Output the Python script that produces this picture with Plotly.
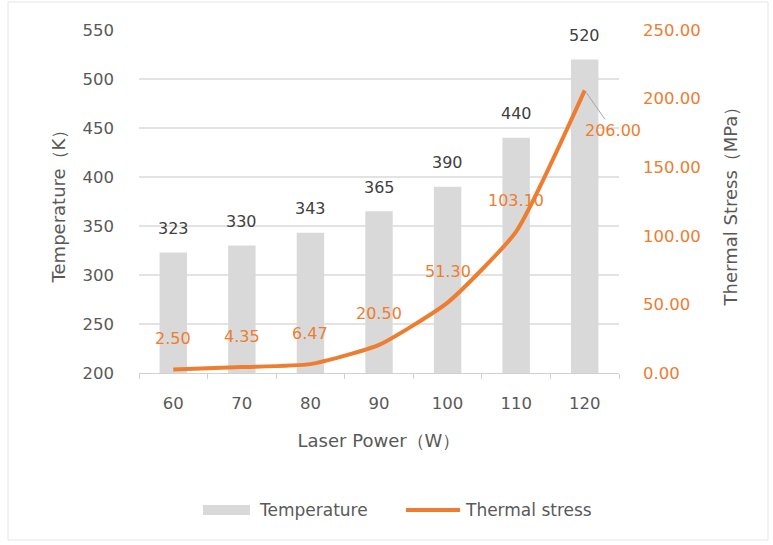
import plotly.graph_objects as go

# Laser power categories (W)
laser_power = ["60", "70", "80", "90", "100", "110", "120"]
# Peak temperature (K)
temperature = [323, 330, 343, 365, 390, 440, 520]
# Thermal stress (MPa)
thermal_stress = [2.50, 4.35, 6.47, 20.50, 51.30, 103.10, 206.00]

FONT = "DejaVu Sans"
GRAY_TEXT = "#595959"
DARK_TEXT = "#404040"
ORANGE = "#ED7D31"
BAR_GRAY = "#D9D9D9"
GRID = "#E3E3E3"

W, H = 773, 545
ML, MR, MT, MB = 139, 154, 30, 172
PW, PH = W - ML - MR, H - MT - MB


def px(xp):
    """pixel column -> paper x"""
    return (xp - ML) / PW


def py(yp):
    """pixel row -> paper y"""
    return (H - MB - yp) / PH


fig = go.Figure()

fig.add_trace(go.Bar(
    x=laser_power, y=temperature, name="Temperature",
    marker=dict(color=BAR_GRAY, line=dict(width=0)),
    yaxis="y",
))

fig.add_trace(go.Scatter(
    x=laser_power, y=thermal_stress, name="Thermal stress",
    mode="lines", line=dict(color=ORANGE, width=4, shape="spline", smoothing=0.5),
    yaxis="y2",
))

annotations = []
# value labels above the bars (category index used as x position)
for i, tv in enumerate(temperature):
    annotations.append(dict(
        x=i, y=tv, xref="x", yref="y", text=str(tv), showarrow=False,
        yshift=24, font=dict(family=FONT, size=16, color=DARK_TEXT),
    ))
# value labels above the stress line
for i, sv in enumerate(thermal_stress[:-1]):
    annotations.append(dict(
        x=i, y=sv, xref="x", yref="y2", text=f"{sv:.2f}", showarrow=False,
        yshift=31, font=dict(family=FONT, size=16, color=ORANGE),
    ))
# last stress label sits below-right with a leader line
last = len(thermal_stress) - 1
annotations.append(dict(
    x=last, y=thermal_stress[last], xref="x", yref="y2",
    text=f"{thermal_stress[last]:.2f}", showarrow=True, arrowhead=0,
    arrowwidth=1, arrowcolor="#A6A6A6", ax=28, ay=40, standoff=3,
    font=dict(family=FONT, size=16, color=ORANGE),
))

# legend drawn below the axis title
legend_font = dict(family=FONT, size=17, color=GRAY_TEXT)
annotations.append(dict(
    x=px(257), y=py(510), xref="paper", yref="paper", xanchor="left",
    yanchor="middle", text=fig.data[0].name, showarrow=False, font=legend_font,
))
annotations.append(dict(
    x=px(463), y=py(510), xref="paper", yref="paper", xanchor="left",
    yanchor="middle", text=fig.data[1].name, showarrow=False, font=legend_font,
))

shapes = [
    dict(type="rect", xref="paper", yref="paper",
         x0=px(203), x1=px(250), y0=py(515), y1=py(505),
         fillcolor=BAR_GRAY, line=dict(width=0)),
    dict(type="line", xref="paper", yref="paper",
         x0=px(406), x1=px(460), y0=py(510), y1=py(510),
         line=dict(color=ORANGE, width=4)),
    # chart frame
    dict(type="rect", xref="paper", yref="paper",
         x0=px(8), x1=px(768), y0=py(540), y1=py(2),
         line=dict(color="#E6E6E6", width=1), layer="below"),
]

fig.update_layout(
    width=W, height=H,
    margin=dict(l=ML, r=MR, t=MT, b=MB),
    paper_bgcolor="white", plot_bgcolor="white",
    font=dict(family=FONT, size=16, color=GRAY_TEXT),
    bargap=0.6,
    showlegend=False,
    xaxis=dict(
        type="category", range=[-0.5, len(laser_power) - 0.5], autorange=False,
        showgrid=False,
        showline=True, linecolor="#D0D0D0", linewidth=1,
        ticks="outside", tickson="boundaries", ticklen=5, tickcolor="#D0D0D0",
        tickfont=dict(family=FONT, size=16.5, color=GRAY_TEXT),
        ticklabelstandoff=15,
        title=dict(text="Laser Power（W）", standoff=22,
                   font=dict(family=FONT, size=18, color=GRAY_TEXT)),
    ),
    yaxis=dict(
        range=[200, 550], dtick=50, tick0=200,
        showgrid=True, gridcolor=GRID, gridwidth=1.5,
        zeroline=False, showline=False,
        tickfont=dict(family=FONT, size=16.5, color=GRAY_TEXT),
        ticklabelstandoff=24,
        title=dict(text="Temperature（K）", standoff=12,
                   font=dict(family=FONT, size=18, color=GRAY_TEXT)),
    ),
    yaxis2=dict(
        range=[0, 250], dtick=50, tick0=0, overlaying="y", side="right",
        showgrid=False, zeroline=False, showline=False,
        tickformat=".2f",
        tickfont=dict(family=FONT, size=16.5, color=ORANGE),
        ticklabelstandoff=23,
        title=dict(text="Thermal Stress（MPa）", standoff=24,
                   font=dict(family=FONT, size=18, color=GRAY_TEXT)),
    ),
    annotations=annotations,
    shapes=shapes,
)

fig.write_html("out.html")
